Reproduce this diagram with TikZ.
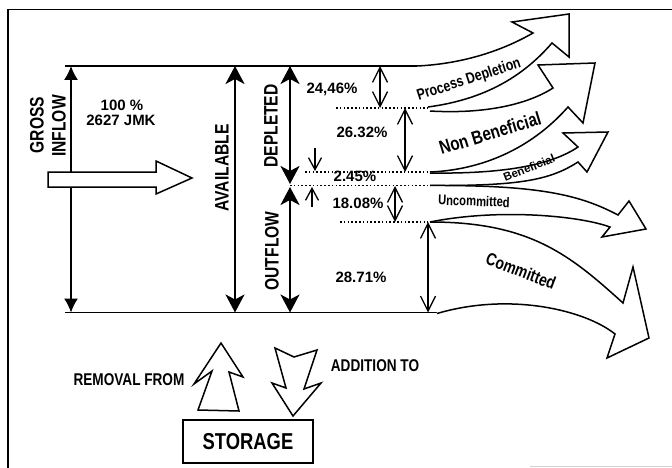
\documentclass[tikz,border=0pt]{standalone}
\usepackage{fontspec}
\setmainfont{Liberation Sans}
\newfontfamily\nar[FakeStretch=0.8]{Liberation Sans}
\usetikzlibrary{arrows.meta}
\tikzset{
  band/.style={fill=white, draw=black, line width=1.5pt, line join=miter, miter limit=20},
  baseline/.style={line width=1.5pt},
  dots/.style={line width=1.6pt, dash pattern=on 1.6pt off 2.2pt},
  thindim/.style={line width=1.3pt, {Latex[length=14pt,width=14pt]}-{Latex[length=14pt,width=14pt]}},
  bigdim/.style={line width=2pt, {Stealth[length=18pt,width=19pt,inset=5pt]}-{Stealth[length=18pt,width=19pt,inset=5pt]}},
  smalldim/.style={line width=1.3pt, {Straight Barb[length=15pt,width=15pt]}-{Straight Barb[length=15pt,width=15pt]}},
  smallarr/.style={line width=1.3pt, -{Straight Barb[length=12pt,width=13pt]}},
  rot/.style={font=\nar\bfseries\fontsize{19.5}{19.5}\selectfont, inner sep=0pt, rotate=90},
  num/.style={font=\bfseries\fontsize{15}{15}\selectfont, inner sep=0pt},
  lab/.style={font=\nar\bfseries\fontsize{17}{17}\selectfont, inner sep=0pt},
  flowlab/.style={font=\nar\bfseries\fontsize{#1}{#1}\selectfont, inner sep=0pt},
}
\begin{document}
\begin{tikzpicture}[x=1pt,y=-1pt]
\useasboundingbox (0,0) rectangle (672,468);
% frame
\draw[line width=1.8pt] (8,468) -- (8,9.5) -- (672,9.5);
\draw[gray!35, line width=1pt] (530,466.5) -- (672,466.5);

% base lines
\coordinate (TL) at (65,66);  \coordinate (TR) at (418,66);
\coordinate (BL) at (65,312.5); \coordinate (BR) at (437,312.5);
\draw[baseline] (TL) -- (TR);
\draw[baseline] (BL) -- (BR);

% dotted division lines
\draw[dots] (336,108) -- (428,108);
\draw[dots] (305,172) -- (430,172);
\draw[dots] (290,185.5) -- (430,185.5);
\draw[dots] (340,222) -- (428,222);

% flow bands
\filldraw[band] (417,66) .. controls (460,64) and (500,52) .. (533,33) -- (512,22) -- (569,14) -- (569,57) -- (552,43)
   .. controls (520,80) and (480,100) .. (428,107);
\filldraw[band] (430,111) .. controls (480,114) and (525,106) .. (553,88) -- (538,65) -- (595,63) -- (583,123) -- (568,107)
   .. controls (530,150) and (480,170) .. (430,172);
\filldraw[band] (430,173) .. controls (500,174) and (550,166) .. (578,147) -- (563,133) -- (608,132) -- (587,172) -- (578,162)
   .. controls (550,180) and (520,186) .. (430,185.5);
\filldraw[band] (430,185.5) .. controls (540,185) and (580,195) .. (618,215) -- (629,201) -- (646,229) -- (602,237) -- (610,227)
   .. controls (580,216) and (500,208) .. (430,222);
\filldraw[band] (430,222) .. controls (530,222) and (570,255) .. (623,303) -- (633,267) -- (649,338) -- (607,358) -- (615,334)
   .. controls (585,310) and (510,292) .. (437,313.5);

% dimension arrows
\coordinate (g1) at (71,66);   \coordinate (g2) at (71,312.5);
\coordinate (a1) at (235,66);  \coordinate (a2) at (235,312.5);
\coordinate (d1) at (290,66);  \coordinate (d2) at (290,184);
\coordinate (o1) at (290,187); \coordinate (o2) at (290,312.5);
\draw[thindim] (g1) -- (g2);
\draw[bigdim] (a1) -- (a2);
\draw[bigdim] (d1) -- (d2);
\draw[bigdim] (o1) -- (o2);

\coordinate (p1) at (380,66);  \coordinate (p2) at (380,108);
\coordinate (n1) at (405,108); \coordinate (n2) at (405,172);
\coordinate (u1) at (395,186); \coordinate (u2) at (395,222);
\coordinate (c1) at (428,222); \coordinate (c2) at (428,312.5);
\draw[smalldim] (p1) -- (p2);
\draw[smalldim] (n1) -- (n2);
\draw[smalldim] (u1) -- (u2);
\draw[smalldim] (c1) -- (c2);
\coordinate (b1) at (315,148); \coordinate (b2) at (315,171);
\coordinate (b3) at (312,207); \coordinate (b4) at (312,187);
\draw[smallarr] (b1) -- (b2);
\draw[smallarr] (b3) -- (b4);

% gross inflow hollow arrow
\filldraw[band] (48,172) -- (156,172) -- (156,161) -- (192,178) -- (156,194) -- (156,187) -- (48,187) -- cycle;

% storage arrows
\filldraw[band] (221,343) -- (243,377) -- (229,372) -- (239,411) -- (198,410) -- (212,371) -- (194,384) -- cycle;
\filldraw[band] (275,348) -- (294,357) -- (317,350) -- (304,389) -- (321,383) -- (293,416) -- (272,383) -- (286,388) -- cycle;

% storage box
\node[draw, line width=1.3pt, minimum width=130pt, minimum height=43pt, font=\nar\bfseries\fontsize{23}{23}\selectfont] (storage) at (248,441.5) {STORAGE};

% texts
\node[rot] (gross) at (37,125) {GROSS};
\node[rot] (inflow) at (59,126) {INFLOW};
\node[num] (pct) at (122,105) {100 \%};
\node[num] (jmk) at (121,120.5) {2627 JMK};
\node[rot] (avail) at (222,168) {AVAILABLE};
\node[rot] (depl) at (271,126) {DEPLETED};
\node[rot] (outf) at (272,251) {OUTFLOW};

\node[num] (v1) at (332,89) {24,46\%};
\node[num] (v2) at (362,132) {26.32\%};
\node[num] (v3) at (355,176) {2.45\%};
\node[num] (v4) at (358,203) {18.08\%};
\node[num] (v5) at (361,277) {28.71\%};

\node[flowlab=15.5, rotate=18] (pd) at (469,80) {Process Depletion};
\node[flowlab=19, rotate=17] (nb) at (490,133) {Non Beneficial};
\node[font=\bfseries\fontsize{11.5}{11.5}\selectfont, inner sep=0pt, rotate=22] (ben) at (529,168) {Beneficial};
\node[flowlab=14, rotate=-2] (unc) at (474,201) {Uncommitted};
\node[flowlab=17.5, rotate=-21] (com) at (521,271) {Committed};

\node[lab] (rem) at (129,380) {REMOVAL FROM};
\node[lab] (add) at (375,366) {ADDITION TO};
\end{tikzpicture}
\end{document}
